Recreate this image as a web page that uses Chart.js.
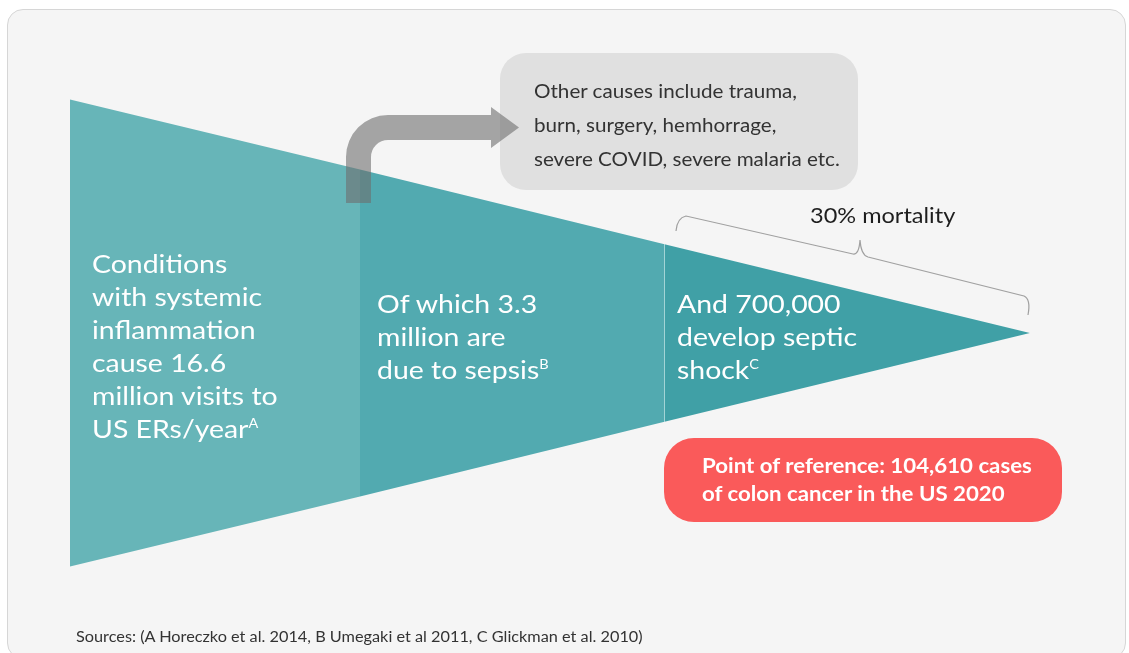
<!DOCTYPE html>
<html>
<head>
<meta charset="utf-8">
<script src="https://cdn.jsdelivr.net/npm/chart.js@4/dist/chart.umd.min.js"></script>
<style>
  html, body { margin:0; padding:0; background:#ffffff; }
  body { width:1129px; height:653px; position:relative; overflow:hidden; font-family: Lato, "Open Sans", sans-serif; }
  #card { position:absolute; left:7px; top:9px; width:1119px; height:650px; background:#f5f5f5; border:1px solid #d6d6d6; border-radius:16px; box-sizing:border-box; }
  #wrap { position:absolute; left:0; top:0; width:1129px; height:653px; }
  .t { position:absolute; white-space:nowrap; transform-origin: 0 50%; }
  .seg { color:#ffffff; font-size:24.5px; line-height:33px; transform: scaleX(1.16); }
  .seg sup { font-size:12.5px; vertical-align: 10px; line-height:0; }
  #other { left:534px; top:74px; font-size:18.5px; line-height:34px; color:#333; transform: scaleX(1.115); }
  #mort { left:810px; top:202px; font-size:21px; color:#1e1e1e; transform: scaleX(1.12); }
  #ref { left:702px; top:451px; font-size:20.5px; line-height:28px; color:#fff; font-weight:bold; transform: scaleX(1.085); }
  #src { left:76px; top:627px; font-size:15.5px; color:#333; transform: scaleX(1.05); }
</style>
</head>
<body>
<div id="card"></div>
<div id="wrap"><canvas id="c" width="1129" height="653"></canvas></div>
<div class="t seg" id="s1" style="left:92px; top:247px;"></div>
<div class="t seg" id="s2" style="left:377px; top:287px;"></div>
<div class="t seg" id="s3" style="left:677px; top:287px;"></div>
<div class="t" id="other"></div>
<div class="t" id="mort"></div>
<div class="t" id="ref"></div>
<div class="t" id="src"></div>
<script>
// ---- data ----
const stageNames = ["ER visits with systemic inflammation", "Sepsis", "Septic shock"];
const stageValuesMillions = [16.6, 3.3, 0.7];
const stageEdges = [0, 1, 2.05, 3.31];          // funnel stage boundaries (stage units)
const funnelHalfWidth = [1, 0.70, 0.38, 0];      // relative half-height of funnel at each boundary
const stageColors = ["#67b5b8", "#52aab0", "#40a0a6"];
const stageTextLines = [
  ["Conditions", "with systemic", "inflammation", "cause 16.6", "million visits to", "US ERs/year<sup>A</sup>"],
  ["Of which 3.3", "million are", "due to sepsis<sup>B</sup>"],
  ["And 700,000", "develop septic", "shock<sup>C</sup>"]
];
const otherCausesLines = ["Other causes include trauma,", "burn, surgery, hemhorrage,", "severe COVID, severe malaria etc."];
const mortalityLabel = "30% mortality";
const referenceLines = ["Point of reference: 104,610 cases", "of colon cancer in the US 2020"];
const sourcesText = "Sources: (A Horeczko et al. 2014, B Umegaki et al 2011, C Glickman et al. 2010)";

// ---- text ----
document.getElementById('s1').innerHTML = stageTextLines[0].join('<br>');
document.getElementById('s2').innerHTML = stageTextLines[1].join('<br>');
document.getElementById('s3').innerHTML = stageTextLines[2].join('<br>');
document.getElementById('other').innerHTML = otherCausesLines.join('<br>');
document.getElementById('mort').textContent = mortalityLabel;
document.getElementById('ref').innerHTML = referenceLines.join('<br>');
document.getElementById('src').textContent = sourcesText;

// ---- datasets ----
const datasets = [];
for (let i = 0; i < stageNames.length; i++) {
  const x0 = stageEdges[i], x1 = stageEdges[i+1];
  const h0 = funnelHalfWidth[i], h1 = funnelHalfWidth[i+1];
  datasets.push({ label: stageNames[i] + ' top', data: [{x:x0,y:h0},{x:x1,y:h1}], borderWidth:0, borderColor:'rgba(0,0,0,0)', pointRadius:0, fill:false });
  datasets.push({ label: stageNames[i] + ' (' + stageValuesMillions[i] + 'M)', data: [{x:x0,y:-h0},{x:x1,y:-h1}], borderWidth:0, borderColor:'rgba(0,0,0,0)', pointRadius:0, fill:'-1', backgroundColor: stageColors[i] });
}
for (let i = 1; i < stageNames.length; i++) {
  datasets.push({ label:'sep'+i, data:[{x:stageEdges[i], y:-funnelHalfWidth[i]},{x:stageEdges[i], y:funnelHalfWidth[i]}], borderColor:'rgba(230,248,248,0.8)', borderWidth:1.5, pointRadius:0, fill:false });
}

const decor = {
  id:'decor',
  beforeDatasetsDraw(chart) {
    const ctx = chart.ctx;
    ctx.save();
    ctx.fillStyle = '#e0e0e0';
    ctx.beginPath(); ctx.roundRect(500, 53, 358, 137, 26); ctx.fill();
    ctx.fillStyle = '#fa5a5a';
    ctx.beginPath(); ctx.roundRect(664, 438, 398, 84, 30); ctx.fill();
    ctx.restore();
  },
  afterDatasetsDraw(chart) {
    const ctx = chart.ctx;
    ctx.save();
    ctx.fillStyle = 'rgba(110,110,110,0.6)';
    ctx.beginPath();
    ctx.moveTo(346, 203);
    ctx.lineTo(346, 157);
    ctx.arc(388, 157, 42, Math.PI, 1.5*Math.PI);
    ctx.lineTo(491, 115);
    ctx.lineTo(491, 107);
    ctx.lineTo(519, 127.5);
    ctx.lineTo(491, 148);
    ctx.lineTo(491, 140);
    ctx.lineTo(388, 140);
    ctx.arc(388, 157, 17, 1.5*Math.PI, Math.PI, true);
    ctx.lineTo(371, 203);
    ctx.closePath();
    ctx.fill();
    ctx.strokeStyle = '#a0a0a0';
    ctx.lineWidth = 1.2;
    ctx.beginPath();
    ctx.moveTo(676, 231);
    ctx.quadraticCurveTo(677, 218, 686, 216);
    ctx.lineTo(853, 254);
    ctx.quadraticCurveTo(859, 255, 860, 240);
    ctx.quadraticCurveTo(861, 255, 868, 257);
    ctx.lineTo(1024, 296);
    ctx.quadraticCurveTo(1031, 299, 1028, 315);
    ctx.stroke();
    ctx.restore();
  }
};

const pxPerUnitX = 290, originX = 70;
const pxPerUnitY = 233.5, originY = 333;
new Chart(document.getElementById('c'), {
  type:'line',
  data:{ datasets },
  options:{
    responsive:false, animation:false,
    layout:{ padding:0 },
    plugins:{ legend:{display:false}, tooltip:{enabled:false} },
    elements:{ line:{ tension:0 } },
    scales:{
      x:{ type:'linear', display:false, min:-originX/pxPerUnitX, max:(1129-originX)/pxPerUnitX },
      y:{ type:'linear', display:false, min:-(653-originY)/pxPerUnitY, max:originY/pxPerUnitY }
    }
  },
  plugins:[decor]
});
</script>
</body>
</html>
